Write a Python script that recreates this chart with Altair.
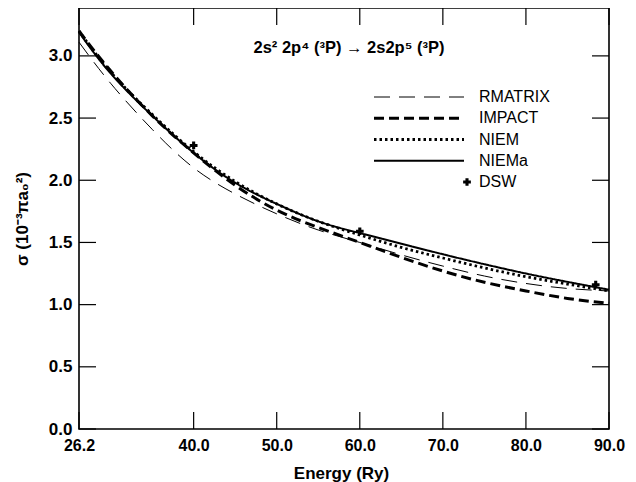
import altair as alt
import pandas as pd

energy = [26.2, 30, 35, 40, 45, 50, 55, 60, 65, 70, 75, 80, 85, 90]
rmatrix = [3.11, 2.78, 2.41, 2.10, 1.89, 1.73, 1.60, 1.50, 1.40, 1.31, 1.23, 1.17, 1.13, 1.11]
impact = [3.20, 2.88, 2.52, 2.22, 1.96, 1.76, 1.62, 1.50, 1.38, 1.27, 1.18, 1.11, 1.05, 1.01]
niem = [3.20, 2.87, 2.53, 2.23, 1.99, 1.81, 1.67, 1.56, 1.46, 1.375, 1.295, 1.225, 1.165, 1.11]
niema = [3.19, 2.86, 2.52, 2.22, 1.98, 1.81, 1.67, 1.575, 1.49, 1.405, 1.325, 1.25, 1.183, 1.12]

dsw_energy = [40.0, 60.0, 88.4]
dsw_sigma = [2.28, 1.59, 1.16]

series_names = ["RMATRIX", "IMPACT", "NIEM", "NIEMa"]
legend_names = ["RMATRIX", "IMPACT", "NIEM", "NIEMa", "DSW"]

x_ticks = [26.2, 40.0, 50.0, 60.0, 70.0, 80.0, 90.0]
y_ticks = [0.0, 0.5, 1.0, 1.5, 2.0, 2.5, 3.0]

annotation = "2s² 2p⁴ (³P) → 2s2p⁵ (³P)"
ann_energy = [58.7]
ann_sigma = [3.063]

# line styles: (dash, width)
styles = {
    "RMATRIX": ([16, 9], 1.0),
    "IMPACT": ([10, 5], 3.0),
    "NIEM": ([2.5, 3], 2.8),
    "NIEMa": ([1, 0], 2.0),
}

W, H = 530, 421
TICK = 17
FONT = "Liberation Sans"

rows = []
for name, vals in zip(series_names, [rmatrix, impact, niem, niema]):
    for e, s in zip(energy, vals):
        rows.append({"energy": e, "sigma": s, "series": name})
df = pd.DataFrame(rows)
dsw = pd.DataFrame({"energy": dsw_energy, "sigma": dsw_sigma})
ann = pd.DataFrame({"energy": ann_energy, "sigma": ann_sigma, "text": [annotation]})
xt = pd.DataFrame({"energy": x_ticks})
yt = pd.DataFrame({"sigma": y_ticks})

xscale = alt.Scale(domain=[26.2, 90], nice=False, zero=False)
yscale = alt.Scale(domain=[0, 3.385], nice=False)

x_enc = alt.X(
    "energy:Q", scale=xscale, title="Energy (Ry)",
    axis=alt.Axis(values=x_ticks, format=".1f", ticks=False, domain=False, grid=False,
                  labelFont=FONT, labelFontSize=16, labelFontWeight="bold", labelColor="black",
                  labelPadding=8, labelFlush=False,
                  titleFont=FONT, titleFontSize=17, titleFontWeight="bold", titleColor="black",
                  titlePadding=12, titleX=262),
)
y_enc = alt.Y(
    "sigma:Q", scale=yscale, title="σ (10⁻³πa₀²)",
    axis=alt.Axis(values=y_ticks, format=".1f", ticks=False, domain=False, grid=False,
                  labelFont=FONT, labelFontSize=17, labelFontWeight="bold", labelColor="black",
                  labelPadding=7, labelFlush=False,
                  titleFont=FONT, titleFontSize=17, titleFontWeight="bold", titleColor="black",
                  titlePadding=17),
)

line_layers = []
for i, name in enumerate(series_names):
    dash, sw = styles[name]
    enc_x = x_enc if i == 0 else alt.X("energy:Q", scale=xscale)
    enc_y = y_enc if i == 0 else alt.Y("sigma:Q", scale=yscale)
    line_layers.append(
        alt.Chart(df).transform_filter(alt.datum.series == name)
        .mark_line(color="black", interpolate="natural", strokeCap="butt",
                   strokeDash=dash, strokeWidth=sw)
        .encode(x=enc_x, y=enc_y)
    )

points = alt.Chart(dsw).mark_point(shape="cross", filled=True, color="black", size=60, opacity=1).encode(
    x=alt.X("energy:Q", scale=xscale), y=alt.Y("sigma:Q", scale=yscale)
)

text = alt.Chart(ann).mark_text(font=FONT, fontSize=16.5, fontWeight="bold", color="black",
                                align="center", baseline="middle").encode(
    x=alt.X("energy:Q", scale=xscale), y=alt.Y("sigma:Q", scale=yscale), text="text:N"
)

# inward tick marks on all four sides
tick_style = dict(color="black", strokeWidth=1.2)
xt_bottom = alt.Chart(xt).mark_rule(**tick_style).encode(
    x=alt.X("energy:Q", scale=xscale), y=alt.value(H), y2=alt.value(H - TICK))
xt_top = alt.Chart(xt).mark_rule(**tick_style).encode(
    x=alt.X("energy:Q", scale=xscale), y=alt.value(0), y2=alt.value(TICK))
yt_left = alt.Chart(yt).mark_rule(**tick_style).encode(
    y=alt.Y("sigma:Q", scale=yscale), x=alt.value(0), x2=alt.value(TICK))
yt_right = alt.Chart(yt).mark_rule(**tick_style).encode(
    y=alt.Y("sigma:Q", scale=yscale), x=alt.value(W - TICK), x2=alt.value(W))

main = alt.layer(*line_layers, points, text, xt_bottom, xt_top, yt_left, yt_right)

leg_y = alt.Scale(type="point", domain=legend_names, range=[89, 174], padding=0)
leg_df = pd.DataFrame({"series": legend_names})

leg_rules = []
for name in series_names:
    dash, sw = styles[name]
    leg_rules.append(
        alt.Chart(leg_df).transform_filter(alt.datum.series == name)
        .mark_rule(color="black", strokeCap="butt", strokeDash=dash, strokeWidth=sw)
        .encode(x=alt.value(295), x2=alt.value(385),
                y=alt.Y("series:N", scale=leg_y, axis=None))
    )
leg_text = alt.Chart(leg_df).mark_text(font=FONT, fontSize=16, color="black",
                                       align="left", baseline="middle").encode(
    x=alt.value(400), y=alt.Y("series:N", scale=leg_y, axis=None), text="series:N"
)
leg_pt = alt.Chart(leg_df).transform_filter(alt.datum.series == "DSW").mark_point(
    shape="cross", filled=True, color="black", size=60, opacity=1).encode(
    x=alt.value(388), y=alt.Y("series:N", scale=leg_y, axis=None)
)
legend = alt.layer(*leg_rules, leg_text, leg_pt)

chart = alt.layer(main, legend).resolve_scale(y="independent").properties(
    width=W, height=H,
    padding={"left": 71, "top": 0, "right": 19, "bottom": 53},
    autosize=alt.AutoSizeParams(type="none"),
).configure_view(stroke="black", strokeWidth=1.6)

chart.save("out.html", embed_options={"renderer": "svg", "actions": False})
